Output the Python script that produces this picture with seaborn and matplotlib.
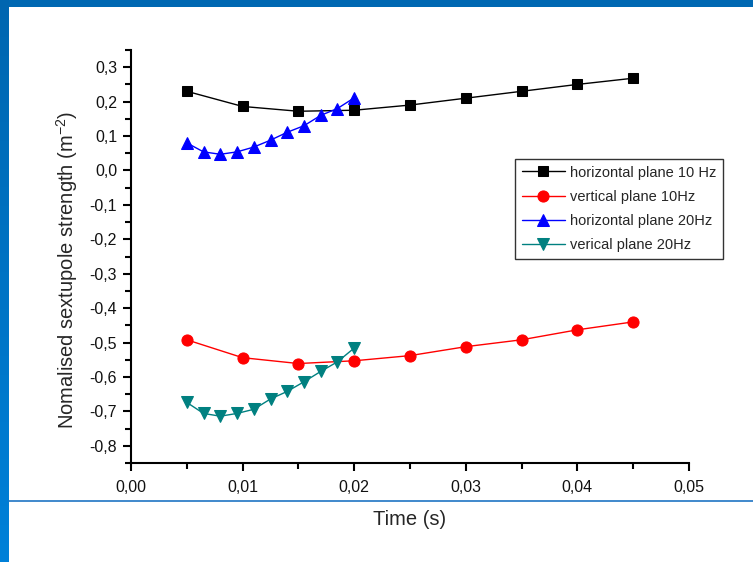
import matplotlib
matplotlib.use("Agg")
import matplotlib.pyplot as plt
import matplotlib.ticker as mticker
import numpy as np
import pandas as pd
import seaborn as sns
from matplotlib.patches import Rectangle
from matplotlib.lines import Line2D

sns.set_theme(style="white")
plt.rcParams['font.family'] = ['Liberation Sans', 'DejaVu Sans']
plt.rcParams['mathtext.fontset'] = 'custom'
plt.rcParams['mathtext.rm'] = 'Liberation Sans'
plt.rcParams['mathtext.it'] = 'Liberation Sans'
plt.rcParams['mathtext.default'] = 'regular'

# ---- data ----
t10 = [0.005, 0.010, 0.015, 0.020, 0.025, 0.030, 0.035, 0.040, 0.045]
h10 = [0.230, 0.186, 0.172, 0.175, 0.190, 0.210, 0.230, 0.250, 0.268]
v10 = [-0.492, -0.544, -0.561, -0.553, -0.538, -0.512, -0.492, -0.463, -0.440]
t20 = [0.005, 0.0065, 0.008, 0.0095, 0.011, 0.0125, 0.014, 0.0155, 0.017, 0.0185, 0.020]
h20 = [0.080, 0.054, 0.047, 0.054, 0.068, 0.088, 0.111, 0.130, 0.160, 0.180, 0.211]
v20 = [-0.674, -0.706, -0.714, -0.706, -0.694, -0.664, -0.642, -0.614, -0.584, -0.556, -0.516]

labels = ["horizontal plane 10 Hz", "vertical plane 10Hz",
          "horizontal plane 20Hz", "verical plane 20Hz"]
colors = ["#000000", "#ff0000", "#0000ff", "#008080"]
markers = ["s", "o", "^", "v"]
msizes = [6.8, 8, 8.6, 8.6]

series = [(t10, h10), (t10, v10), (t20, h20), (t20, v20)]

fig = plt.figure(figsize=(7.53, 5.62), dpi=100)
fig.patch.set_facecolor("white")

# slide decoration
fig.patches.append(Rectangle((0, 1 - 7 / 562), 1, 7 / 562, transform=fig.transFigure,
                             facecolor="#0068b2", edgecolor="none", zorder=0))
ncol = 60
for i in range(ncol):
    y0 = i / ncol
    frac = i / (ncol - 1)
    c1 = np.array([0x00, 0x80, 0xd8]) / 255
    c2 = np.array([0x00, 0x66, 0xb0]) / 255
    c = c1 * (1 - frac) + c2 * frac
    fig.patches.append(Rectangle((0, y0), 9 / 753, 1 / ncol + 0.002, transform=fig.transFigure,
                                 facecolor=c, edgecolor="none", zorder=0))
fig.lines.append(Line2D([9 / 753, 1], [1 - 501 / 562, 1 - 501 / 562], transform=fig.transFigure,
                        color="#1f74c4", linewidth=1.2))

ax = fig.add_axes([131 / 753, 1 - 463 / 562, (689 - 131) / 753, (463 - 50) / 562])
ax.set_facecolor("none")

for (tx, ty), lab, col, mk, ms in zip(series, labels, colors, markers, msizes):
    df = pd.DataFrame({"t": tx, "y": ty})
    sns.lineplot(data=df, x="t", y="y", ax=ax, color=col, marker=mk, markersize=ms,
                 markeredgecolor=col, linewidth=1.0, label=lab, sort=False)

ax.set_xlim(0, 0.05)
ax.set_ylim(-0.85, 0.35)
ax.xaxis.set_major_locator(mticker.MultipleLocator(0.01))
ax.xaxis.set_minor_locator(mticker.MultipleLocator(0.005))
ax.yaxis.set_major_locator(mticker.MultipleLocator(0.1))
ax.yaxis.set_minor_locator(mticker.MultipleLocator(0.05))

def fmt(n):
    def f(v, pos):
        s = f"{v:.{n}f}"
        if s.startswith("-") and float(s) == 0:
            s = s[1:]
        return s.replace(".", ",")
    return f

ax.xaxis.set_major_formatter(mticker.FuncFormatter(fmt(2)))
ax.yaxis.set_major_formatter(mticker.FuncFormatter(fmt(1)))

for s in ["top", "right"]:
    ax.spines[s].set_visible(False)
for s in ["left", "bottom"]:
    ax.spines[s].set_color("black")
    ax.spines[s].set_linewidth(1.5)

ax.tick_params(axis="both", which="major", direction="out", length=6, width=1.5,
               color="black", labelsize=11.5, labelcolor="#111111", left=True, bottom=True)
ax.tick_params(axis="both", which="minor", direction="out", length=4, width=1.5,
               color="black", left=True, bottom=True)
ax.tick_params(axis="x", which="major", pad=6)
ax.tick_params(axis="y", which="major", pad=4)

ax.set_xlabel("Time (s)", fontsize=14.5, labelpad=11)
ax.set_ylabel("Nomalised sextupole strength (m$^{-2}$)", fontsize=14.5, labelpad=7)
ax.yaxis.label.set_y((463 - 270) / 413)

leg = ax.legend(loc="upper left", bbox_to_anchor=((515 - 131) / 558, 1 - (159 - 50) / 413),
                frameon=True, fancybox=False, fontsize=10.5, borderpad=0.45,
                handlelength=3.0, handletextpad=0.3, labelspacing=0.7, borderaxespad=0)
leg.get_frame().set_edgecolor("black")
leg.get_frame().set_linewidth(1.0)

fig.savefig("out.png", dpi=100)
